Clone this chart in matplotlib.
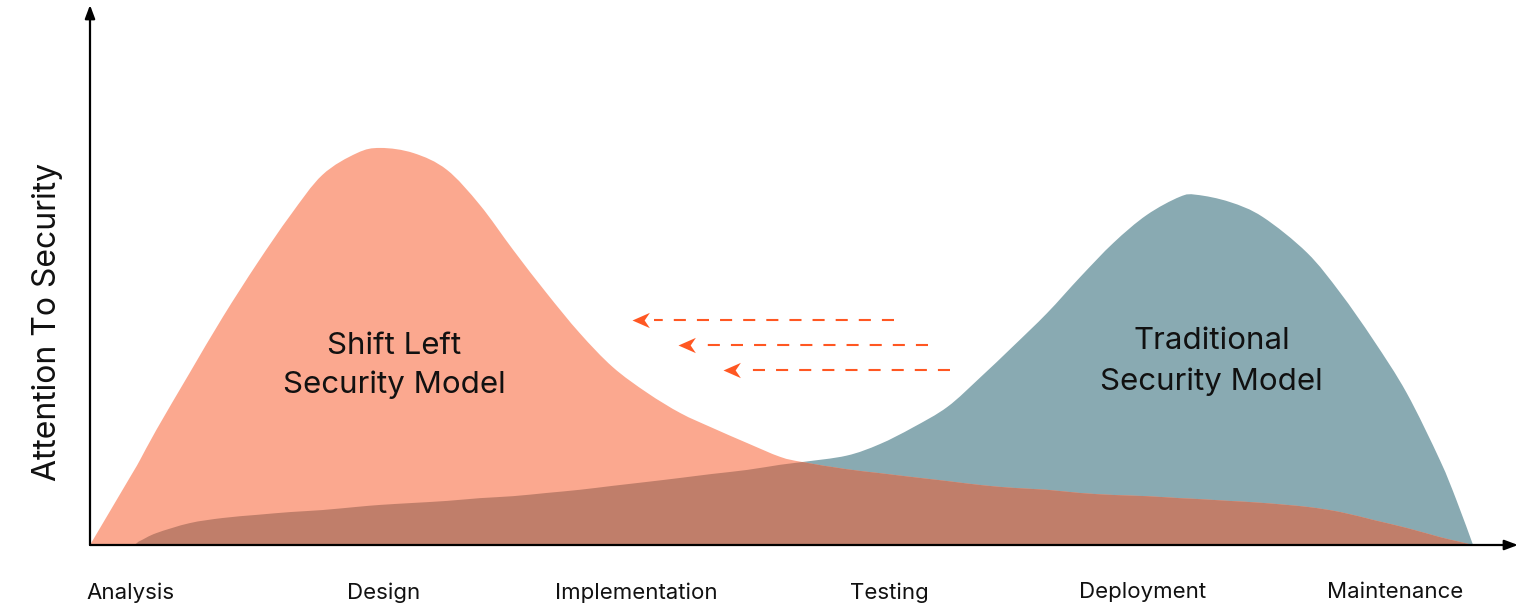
import numpy as np
import matplotlib
matplotlib.use("Agg")
import matplotlib.pyplot as plt
from matplotlib.path import Path
from matplotlib.patches import PathPatch

# ---- data ----
progress = [0, 2.9, 3.6, 4.8, 7.2, 9.6, 12.1, 14.5, 16.8, 19.3, 21.0, 23.4, 25.8,
            28.2, 30.6, 33.0, 35.4, 37.8, 40.3, 42.7, 45.0, 47.5, 49.9, 51.5, 54.7,
            57.1, 59.5, 62.0, 64.4, 66.7, 69.2, 71.6, 74.0, 76.4, 78.8, 80.0, 82.4,
            84.8, 88.0, 90.4, 92.8, 95.2, 97.6, 98.8, 100]
shift_left = [0, 17.1, 21.3, 29.0, 43.3, 57.4, 71.0, 83.1, 93.2, 98.7, 100, 98.7, 94.5,
              85.6, 74.3, 63.5, 53.4, 44.8, 38.3, 33.2, 29.5, 25.7, 22.2, 20.9, 19.1,
              18.1, 17.1, 16.1, 15.1, 14.4, 13.9, 13.1, 12.6, 12.3, 11.8, 11.6, 11.1,
              10.6, 9.6, 8.3, 6.3, 4.3, 2.0, 1.0, 0]
traditional = [0, 0, 1.0, 3.0, 5.5, 6.8, 7.6, 8.3, 8.8, 9.6, 10.1, 10.6, 11.1,
               11.8, 12.3, 13.1, 13.9, 14.9, 15.9, 16.9, 17.9, 18.9, 20.2, 20.9, 22.5,
               25.4, 29.6, 34.8, 42.3, 49.9, 58.4, 67.5, 76.1, 83.1, 87.7, 88.2, 86.4,
               82.6, 73.6, 63.5, 51.6, 38.3, 21.4, 11.3, 0]

stages = ["Analysis", "Design", "Implementation", "Testing", "Deployment", "Maintenance"]
stage_pos = [2.96, 21.24, 39.52, 57.8, 76.08, 94.36]

# shift arrows: (tail_x, head_x, y)
arrow_tail = [58.1, 60.6, 62.2]
arrow_head = [39.2, 42.5, 45.8]
arrow_y = [56.7, 50.4, 44.1]

labels = ["Shift Left\nSecurity Model", "Traditional\nSecurity Model"]
label_x = [22.0, 81.1]
label_y = [45.2, 46.3]

# ---- style ----
SALMON = "#FBA88F"
TEAL = "#89AAB2"
OVERLAP = "#C07E6A"
ORANGE = "#FF5722"
FONT = ["Inter", "DejaVu Sans"]
LABEL_SPACING = [1.45, 1.55]

plt.rcParams["font.family"] = FONT


def smooth_area_path(xs, ys):
    """Closed area path through the points, drawn with cubic Bezier segments."""
    p = np.column_stack([xs, ys]).astype(float)
    n = len(p)
    verts = [(p[0, 0], 0.0), tuple(p[0])]
    codes = [Path.MOVETO, Path.LINETO]
    for i in range(n - 1):
        p0 = p[i - 1] if i > 0 else p[i]
        p1, p2 = p[i], p[i + 1]
        p3 = p[i + 2] if i + 2 < n else p[i + 1]
        c1 = p1 + (p2 - p0) / 6.0
        c2 = p2 - (p3 - p1) / 6.0
        verts += [tuple(c1), tuple(c2), tuple(p2)]
        codes += [Path.CURVE4] * 3
    verts += [(p[-1, 0], 0.0), (p[0, 0], 0.0)]
    codes += [Path.LINETO, Path.CLOSEPOLY]
    return Path(verts, codes)


fig = plt.figure(figsize=(15.4, 6.1), dpi=100)
ax = fig.add_axes([90 / 1540, 65 / 610, 1428 / 1540, 540 / 610])
ax.set_xlim(0, 103.25)
ax.set_ylim(0, 136)

path_t = smooth_area_path(progress, traditional)
path_s = smooth_area_path(progress, shift_left)

patch_t = PathPatch(path_t, facecolor=TEAL, lw=0, transform=ax.transData)
patch_s = PathPatch(path_s, facecolor=SALMON, lw=0, transform=ax.transData)
ax.add_patch(patch_t)
ax.add_patch(patch_s)
patch_o = PathPatch(path_s, facecolor=OVERLAP, lw=0, transform=ax.transData)
ax.add_patch(patch_o)
patch_o.set_clip_path(PathPatch(path_t, transform=ax.transData))

# dashed arrows
head_marker = Path([(0, 0), (1, 0.44), (0.7, 0), (1, -0.44), (0, 0)],
                   [Path.MOVETO, Path.LINETO, Path.LINETO, Path.LINETO, Path.CLOSEPOLY])
for xt, xh, yy in zip(arrow_tail, arrow_head, arrow_y):
    ax.plot([xt, xh + 1.6], [yy, yy], color=ORANGE, lw=1.5,
            linestyle=(0, (5.8, 5.3)), solid_capstyle="butt", dash_capstyle="butt")
    ax.plot([xh], [yy], marker=head_marker, markersize=25, color=ORANGE,
            markeredgewidth=0, linestyle="none")

# region labels
for lab, lx, ly, ls in zip(labels, label_x, label_y, LABEL_SPACING):
    ax.text(lx, ly, lab, ha="center", va="center", fontsize=22.5,
            color="#111111", linespacing=ls)

# axes with arrows
for sp in ax.spines.values():
    sp.set_visible(False)
ax.annotate("", xy=(0, 1.0), xytext=(0, 0), xycoords="axes fraction",
            arrowprops=dict(arrowstyle="-|>,head_length=0.8,head_width=0.3",
                            lw=1.6, color="black", shrinkA=0, shrinkB=0),
            annotation_clip=False)
ax.annotate("", xy=(1.0, 0), xytext=(0, 0), xycoords="axes fraction",
            arrowprops=dict(arrowstyle="-|>,head_length=0.8,head_width=0.3",
                            lw=1.6, color="black", shrinkA=0, shrinkB=0),
            annotation_clip=False)

ax.set_yticks([])
ax.set_xticks(stage_pos)
ax.set_xticklabels(stages, fontsize=16, color="#111111")
ax.tick_params(axis="x", length=0, pad=27)
ax.text(-0.0301, 0.413, "Attention To Security", transform=ax.transAxes,
        rotation=90, ha="center", va="center", fontsize=23, color="#111111")

fig.savefig("out.png", dpi=100, facecolor="white")
